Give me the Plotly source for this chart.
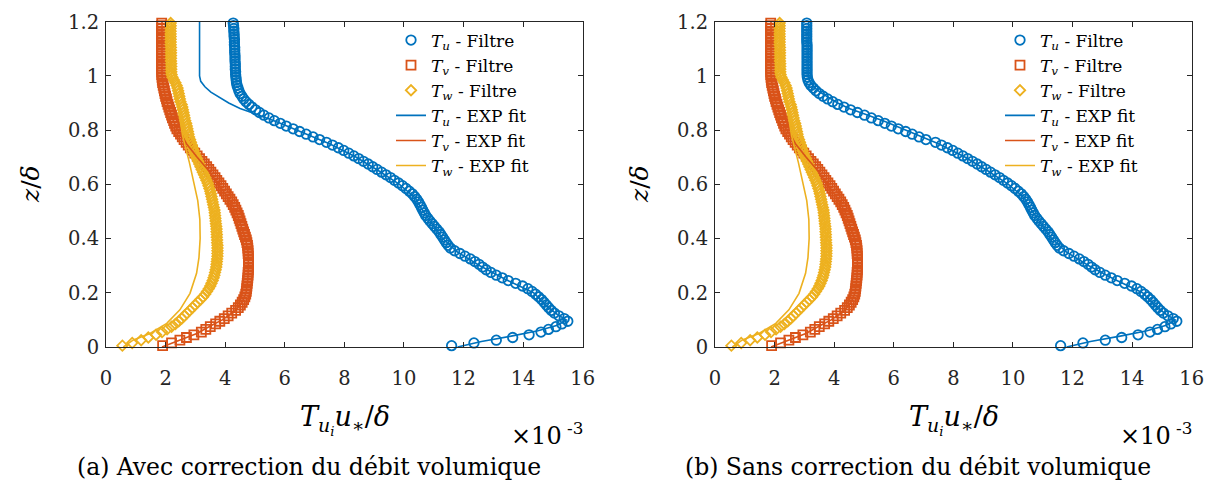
import plotly.graph_objects as go

# ---------------- data ----------------
z = [
    0.005, 0.015, 0.025, 0.035, 0.045, 0.055, 0.065, 0.075, 0.085, 0.095,
    0.105, 0.115, 0.125, 0.135, 0.145, 0.155, 0.165, 0.175, 0.185, 0.195,
    0.205, 0.215, 0.225, 0.235, 0.245, 0.255, 0.265, 0.275, 0.285, 0.295,
    0.305, 0.315, 0.325, 0.335, 0.345, 0.355, 0.365, 0.375, 0.385, 0.395,
    0.405, 0.415, 0.425, 0.435, 0.445, 0.455, 0.465, 0.475, 0.485, 0.495,
    0.505, 0.515, 0.525, 0.535, 0.545, 0.555, 0.565, 0.575, 0.585, 0.595,
    0.605, 0.615, 0.625, 0.635, 0.645, 0.655, 0.665, 0.675, 0.685, 0.695,
    0.705, 0.715, 0.725, 0.735, 0.745, 0.755, 0.765, 0.775, 0.785, 0.795,
    0.805, 0.815, 0.825, 0.835, 0.845, 0.855, 0.865, 0.875, 0.885, 0.895,
    0.905, 0.915, 0.925, 0.935, 0.945, 0.955, 0.965, 0.975, 0.985, 0.995,
    1.005, 1.015, 1.025, 1.035, 1.045, 1.055, 1.065, 1.075, 1.085, 1.095,
    1.105, 1.115, 1.125, 1.135, 1.145, 1.155, 1.165, 1.175, 1.185, 1.195,
]

# (a) Avec correction : T_u filtered
tu_a = [
    11.6, 12.35, 13.1, 13.65, 14.2, 14.6, 14.85, 15.1, 15.3, 15.5,
    15.38, 15.2, 15.05, 14.95, 14.86, 14.78, 14.7, 14.62, 14.52, 14.42,
    14.3, 14.16, 13.98, 13.75, 13.5, 13.3, 13.1, 12.92, 12.76, 12.64,
    12.52, 12.38, 12.23, 12.05, 11.88, 11.7, 11.56, 11.48, 11.42, 11.36,
    11.3, 11.24, 11.18, 11.1, 11.02, 10.95, 10.87, 10.8, 10.73, 10.68,
    10.63, 10.59, 10.54, 10.49, 10.43, 10.36, 10.28, 10.18, 10.07, 9.95,
    9.82, 9.68, 9.55, 9.4, 9.25, 9.1, 8.95, 8.8, 8.64, 8.48,
    8.32, 8.15, 7.98, 7.8, 7.6, 7.4, 7.17, 6.95, 6.72, 6.5,
    6.28, 6.05, 5.85, 5.65, 5.47, 5.3, 5.15, 5.02, 4.9, 4.8,
    4.7, 4.62, 4.56, 4.5, 4.46, 4.43, 4.4, 4.38, 4.37, 4.36,
    4.35, 4.35, 4.34, 4.34, 4.34, 4.33, 4.33, 4.33, 4.32, 4.32,
    4.32, 4.31, 4.31, 4.31, 4.30, 4.30, 4.29, 4.29, 4.28, 4.27,
]

# (b) Sans correction : T_u filtered
tu_b = [
    11.6, 12.35, 13.1, 13.65, 14.2, 14.6, 14.85, 15.1, 15.3, 15.5,
    15.38, 15.2, 15.05, 14.95, 14.86, 14.78, 14.7, 14.62, 14.52, 14.42,
    14.3, 14.16, 13.98, 13.75, 13.5, 13.3, 13.1, 12.92, 12.76, 12.64,
    12.52, 12.38, 12.23, 12.05, 11.88, 11.7, 11.56, 11.48, 11.42, 11.36,
    11.3, 11.24, 11.18, 11.1, 11.02, 10.95, 10.87, 10.8, 10.73, 10.68,
    10.63, 10.59, 10.54, 10.49, 10.43, 10.36, 10.28, 10.18, 10.07, 9.95,
    9.82, 9.68, 9.55, 9.4, 9.25, 9.1, 8.95, 8.8, 8.64, 8.48,
    8.32, 8.15, 7.98, 7.8, 7.6, 7.4, 7.08, 6.85, 6.62, 6.4,
    6.15, 5.92, 5.7, 5.48, 5.25, 5.02, 4.78, 4.55, 4.33, 4.12,
    3.95, 3.78, 3.63, 3.5, 3.39, 3.3, 3.22, 3.16, 3.12, 3.1,
    3.09, 3.09, 3.09, 3.09, 3.09, 3.09, 3.09, 3.09, 3.09, 3.09,
    3.09, 3.09, 3.08, 3.08, 3.08, 3.08, 3.08, 3.08, 3.08, 3.08,
]

# T_v filtered (same in both panels)
tv = [
    1.9, 2.2, 2.48, 2.7, 2.95, 3.2, 3.35, 3.5, 3.68, 3.82,
    3.97, 4.1, 4.22, 4.35, 4.44, 4.51, 4.57, 4.62, 4.66, 4.69,
    4.71, 4.72, 4.73, 4.74, 4.75, 4.76, 4.77, 4.77, 4.78, 4.78,
    4.78, 4.78, 4.78, 4.78, 4.77, 4.77, 4.76, 4.75, 4.73, 4.71,
    4.68, 4.65, 4.62, 4.59, 4.56, 4.53, 4.5, 4.47, 4.44, 4.4,
    4.36, 4.32, 4.27, 4.22, 4.16, 4.1, 4.04, 3.98, 3.92, 3.86,
    3.79, 3.72, 3.66, 3.59, 3.52, 3.45, 3.38, 3.3, 3.22, 3.14,
    3.06, 2.98, 2.9, 2.83, 2.76, 2.69, 2.62, 2.56, 2.5, 2.44,
    2.38, 2.34, 2.3, 2.27, 2.23, 2.2, 2.17, 2.14, 2.11, 2.08,
    2.05, 2.03, 2.0, 1.98, 1.96, 1.94, 1.92, 1.9, 1.89, 1.88,
    1.87, 1.87, 1.87, 1.87, 1.87, 1.87, 1.87, 1.87, 1.87, 1.87,
    1.87, 1.87, 1.87, 1.87, 1.87, 1.87, 1.87, 1.87, 1.87, 1.87,
]

# T_w filtered (same in both panels)
tw = [
    0.55, 0.88, 1.18, 1.42, 1.68, 1.88, 2.05, 2.2, 2.33, 2.44,
    2.54, 2.63, 2.72, 2.81, 2.9, 2.99, 3.08, 3.17, 3.26, 3.33,
    3.39, 3.45, 3.5, 3.54, 3.58, 3.61, 3.64, 3.66, 3.68, 3.7,
    3.71, 3.72, 3.73, 3.74, 3.74, 3.74, 3.74, 3.74, 3.73, 3.73,
    3.72, 3.72, 3.71, 3.71, 3.7, 3.69, 3.68, 3.67, 3.66, 3.65,
    3.64, 3.62, 3.6, 3.58, 3.56, 3.54, 3.52, 3.5, 3.47, 3.44,
    3.41, 3.37, 3.33, 3.29, 3.25, 3.21, 3.17, 3.13, 3.09, 3.05,
    3.01, 2.97, 2.94, 2.91, 2.88, 2.85, 2.82, 2.79, 2.77, 2.75,
    2.73, 2.71, 2.69, 2.66, 2.64, 2.62, 2.6, 2.58, 2.56, 2.54,
    2.5, 2.48, 2.46, 2.44, 2.42, 2.4, 2.37, 2.33, 2.28, 2.23,
    2.2, 2.19, 2.19, 2.19, 2.19, 2.18, 2.18, 2.18, 2.18, 2.18,
    2.18, 2.17, 2.17, 2.17, 2.17, 2.17, 2.17, 2.17, 2.17, 2.17,
]

# EXP fits (same in both panels)
tu_fit_z = [0.0, 0.02, 0.04, 0.06, 0.08, 0.1, 0.12, 0.15, 0.2, 0.25, 0.3, 0.35,
            0.4, 0.45, 0.5, 0.55, 0.6, 0.65, 0.7, 0.75, 0.8, 0.83, 0.86, 0.88,
            0.9, 0.92, 0.94, 0.96, 0.98, 1.0, 1.2]
tu_fit = [11.8, 12.6, 13.6, 14.5, 15.15, 15.45, 15.15, 14.8, 14.35, 13.4, 12.55, 11.8,
          11.3, 10.98, 10.65, 10.38, 9.85, 9.15, 8.4, 7.5, 6.4, 5.75, 5.0, 4.5,
          4.12, 3.8, 3.52, 3.32, 3.18, 3.14, 3.14]

tv_fit_z = [0.0, 0.02, 0.05, 0.08, 0.1, 0.13, 0.16, 0.2, 0.25, 0.3, 0.35, 0.4,
            0.45, 0.5, 0.55, 0.6, 0.65, 0.7, 0.75, 0.78, 0.8, 0.85, 0.9, 0.95,
            1.0, 1.2]
tv_fit = [1.88, 2.35, 3.05, 3.55, 3.9, 4.3, 4.55, 4.7, 4.76, 4.78, 4.77, 4.68,
          4.53, 4.36, 4.1, 3.79, 3.45, 3.06, 2.7, 2.55, 2.4, 2.2, 2.05, 1.94,
          1.88, 1.88]

tw_fit_z = [0.0, 0.026, 0.05, 0.087, 0.137, 0.198, 0.272, 0.33, 0.4, 0.47, 0.54,
            0.61, 0.68, 0.74, 0.78, 0.85, 0.92, 0.97, 1.0, 1.2]
tw_fit = [0.58, 0.92, 1.48, 2.04, 2.48, 2.82, 3.04, 3.12, 3.16, 3.15, 3.08,
          2.95, 2.8, 2.66, 2.57, 2.47, 2.38, 2.27, 2.2, 2.2]

x_ticks = [0, 2, 4, 6, 8, 10, 12, 14, 16]
y_ticks = [0, 0.2, 0.4, 0.6, 0.8, 1.0, 1.2]
y_ticktext = ["0", "0.2", "0.4", "0.6", "0.8", "1", "1.2"]

captions = ["(a) Avec correction du débit volumique",
            "(b) Sans correction du débit volumique"]

# ---------------- style ----------------
BLUE, ORANGE, YELLOW = "#0072BD", "#D95319", "#EDB120"
AX = "#262626"
FONT = "DejaVu Serif"
W, H = 1210, 486

fig = go.Figure()

panels = [
    dict(tu=tu_a, xa="x", ya="y", leg="legend"),
    dict(tu=tu_b, xa="x2", ya="y2", leg="legend2"),
]

def lab(sub, txt):
    return f"<i>T</i><sub><i>{sub}</i></sub> - {txt}"

for p in panels:
    common = dict(xaxis=p["xa"], yaxis=p["ya"], legend=p["leg"], cliponaxis=False)
    fig.add_trace(go.Scatter(x=p["tu"], y=z, mode="markers", name=lab("u", "Filtre"),
                             marker=dict(symbol="circle-open", size=9.5, color=BLUE,
                                         line=dict(width=1.8, color=BLUE)), **common))
    fig.add_trace(go.Scatter(x=tv, y=z, mode="markers", name=lab("v", "Filtre"),
                             marker=dict(symbol="square-open", size=9, color=ORANGE,
                                         line=dict(width=1.8, color=ORANGE)), **common))
    fig.add_trace(go.Scatter(x=tw, y=z, mode="markers", name=lab("w", "Filtre"),
                             marker=dict(symbol="diamond-open", size=8, color=YELLOW,
                                         line=dict(width=1.8, color=YELLOW)), **common))
    fig.add_trace(go.Scatter(x=tu_fit, y=tu_fit_z, mode="lines", name=lab("u", "EXP fit"),
                             line=dict(color=BLUE, width=1.6), **common))
    fig.add_trace(go.Scatter(x=tv_fit, y=tv_fit_z, mode="lines", name=lab("v", "EXP fit"),
                             line=dict(color=ORANGE, width=1.6), **common))
    fig.add_trace(go.Scatter(x=tw_fit, y=tw_fit_z, mode="lines", name=lab("w", "EXP fit"),
                             line=dict(color=YELLOW, width=1.6), **common))

def px_x(v):
    return v / W

def px_y(v):
    return (H - v) / H

ydom = [px_y(347), px_y(21.7)]
xdoms = [[px_x(106), px_x(582.7)], [px_x(715), px_x(1191.7)]]

axis_common = dict(showgrid=False, zeroline=False, showline=True, linecolor=AX,
                   linewidth=1, mirror="ticks", ticks="inside", ticklen=5,
                   tickcolor=AX, tickwidth=1, automargin=False,
                   tickfont=dict(family=FONT, size=19.5, color=AX))

layout = dict(
    template="none",
    width=W, height=H, margin=dict(l=0, r=0, t=0, b=0, pad=0, autoexpand=False),
    paper_bgcolor="white", plot_bgcolor="white",
    font=dict(family=FONT, color=AX),
    showlegend=True,
)
for i, suffix in enumerate(["", "2"]):
    layout["xaxis" + suffix] = dict(domain=xdoms[i], range=[0, 16], tickvals=x_ticks,
                                    anchor="y" + suffix, ticklabelstandoff=14,
                                    **axis_common)
    layout["yaxis" + suffix] = dict(domain=ydom, range=[0, 1.2], tickvals=y_ticks,
                                    ticktext=y_ticktext, anchor="x" + suffix,
                                    ticklabelstandoff=2, **axis_common)
    off = 609 * i
    layout["legend" + suffix] = dict(x=px_x(391 + off), y=px_y(22.5), xanchor="left",
                                     yanchor="top", bgcolor="rgba(0,0,0,0)",
                                     borderwidth=0,
                                     font=dict(family=FONT, size=17, color="#000"),
                                     tracegroupgap=0)

fig.update_layout(**layout)

annotations = []
for i in range(2):
    off = 609 * i
    annotations.append(dict(x=px_x(30 + off), y=px_y(184), xref="paper", yref="paper",
                            text="<i>z</i>/<i>δ</i>", textangle=-90, showarrow=False,
                            font=dict(family=FONT, size=25, color="#000"),
                            xanchor="center", yanchor="middle"))
    annotations.append(dict(x=px_x(344.5 + off), y=px_y(420), xref="paper", yref="paper",
                            text="<i>T</i><sub><i>u</i><sub><i>i</i></sub></sub><i>u</i><sub>∗</sub>/<i>δ</i>",
                            showarrow=False, font=dict(family=FONT, size=27, color="#000"),
                            xanchor="center", yanchor="middle"))
    annotations.append(dict(x=px_x(585 + off), y=px_y(434), xref="paper", yref="paper",
                            text="×10<sup> -3</sup>", showarrow=False,
                            font=dict(family=FONT, size=24, color="#000"),
                            xanchor="right", yanchor="middle"))
    annotations.append(dict(x=px_x(309 + off), y=px_y(467), xref="paper", yref="paper",
                            text=captions[i], showarrow=False,
                            font=dict(family=FONT, size=23.5, color="#000"),
                            xanchor="center", yanchor="middle"))
fig.update_layout(annotations=annotations)

fig.write_html("out.html",
               config={"displayModeBar": False},
               post_script="document.body.style.margin='0';"
                           "document.body.style.overflow='hidden';")
